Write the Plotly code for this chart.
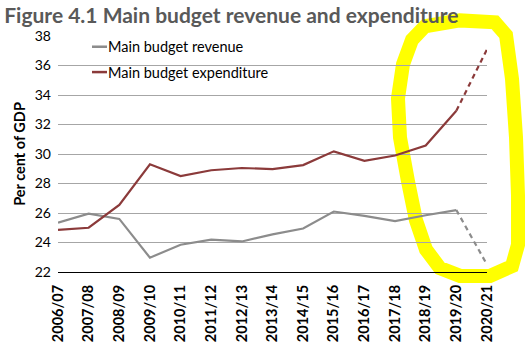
import plotly.graph_objects as go

years = ["2006/07", "2007/08", "2008/09", "2009/10", "2010/11", "2011/12", "2012/13",
         "2013/14", "2014/15", "2015/16", "2016/17", "2017/18", "2018/19", "2019/20", "2020/21"]
revenue = [25.35, 25.95, 25.6, 22.97, 23.85, 24.2, 24.07, 24.55, 24.95, 26.1, 25.8, 25.45, 25.85, 26.2, 22.5]
expenditure = [24.85, 25.0, 26.55, 29.3, 28.5, 28.9, 29.05, 28.98, 29.25, 30.18, 29.54, 29.9, 30.57, 32.93, 37.1]

REV_C = "#8c8c8c"
EXP_C = "#8b3a3a"
FONT = "Lato"

fig = go.Figure()
fig.add_trace(go.Scatter(x=years[:-1], y=revenue[:-1], mode="lines",
                         line=dict(color=REV_C, width=2.2), showlegend=False))
fig.add_trace(go.Scatter(x=years[-2:], y=revenue[-2:], mode="lines",
                         line=dict(color=REV_C, width=2.2, dash="5px,4px"), showlegend=False))
fig.add_trace(go.Scatter(x=years[:-1], y=expenditure[:-1], mode="lines",
                         line=dict(color=EXP_C, width=2.2), showlegend=False))
fig.add_trace(go.Scatter(x=years[-2:], y=expenditure[-2:], mode="lines",
                         line=dict(color=EXP_C, width=2.2, dash="5px,4px"), showlegend=False))

W, H = 528, 354
L, R, T, B = 58, 41, 36, 76
pw, ph = W - L - R, H - T - B

def px(x): return (x - L) / pw
def py(y): return (H - B - y) / ph

# custom legend
for yy, col, name in [(47, REV_C, "Main budget revenue"), (73, EXP_C, "Main budget expenditure")]:
    fig.add_shape(type="line", xref="paper", yref="paper", x0=px(92), x1=px(107), y0=py(yy), y1=py(yy),
                  line=dict(color=col, width=2.5))
    fig.add_annotation(xref="paper", yref="paper", x=px(106), y=py(yy), text=name, showarrow=False,
                       xanchor="left", yanchor="middle", font=dict(family=FONT, size=14.5, color="black"))

# yellow hand-drawn highlight
pts = [(425, 26), (460, 20), (495, 22), (506, 35), (512, 80), (516, 140), (518, 200), (518, 250),
       (512, 272), (490, 282), (460, 282), (440, 274), (426, 255), (416, 225), (408, 185),
       (400, 140), (398, 100), (403, 65), (412, 40), (425, 26)]
path = "M " + " L ".join(f"{px(a):.4f},{py(b):.4f}" for a, b in pts) + " Z"
fig.add_shape(type="path", xref="paper", yref="paper", path=path, layer="between",
              line=dict(color="#ffff00", width=14))

fig.update_layout(
    width=W, height=H,
    margin=dict(l=L, r=R, t=T, b=B),
    plot_bgcolor="white", paper_bgcolor="white",
    title=dict(text="<b>Figure 4.1 Main budget revenue and expenditure</b>",
               x=0.008, xanchor="left", y=1 - 16 / H, yanchor="middle",
               font=dict(family=FONT, size=21, color="#595959")),
    xaxis=dict(type="category", tickangle=-90, showgrid=False, showline=True,
               linecolor="black", linewidth=1.3, ticks="", ticklabelstandoff=6,
               tickfont=dict(family=FONT, size=14.5, color="black", weight="bold")),
    yaxis=dict(range=[22, 38], dtick=2, showgrid=True, gridcolor="#a6a6a6", gridwidth=1,
               zeroline=False, ticks="", showline=False, ticklabelstandoff=6,
               tickfont=dict(family=FONT, size=14, color="black"),
               title=dict(text="<b>Per cent of GDP</b>", standoff=5,
                          font=dict(family=FONT, size=14.5, color="black"))),
    showlegend=False,
)

fig.write_html("out.html")
